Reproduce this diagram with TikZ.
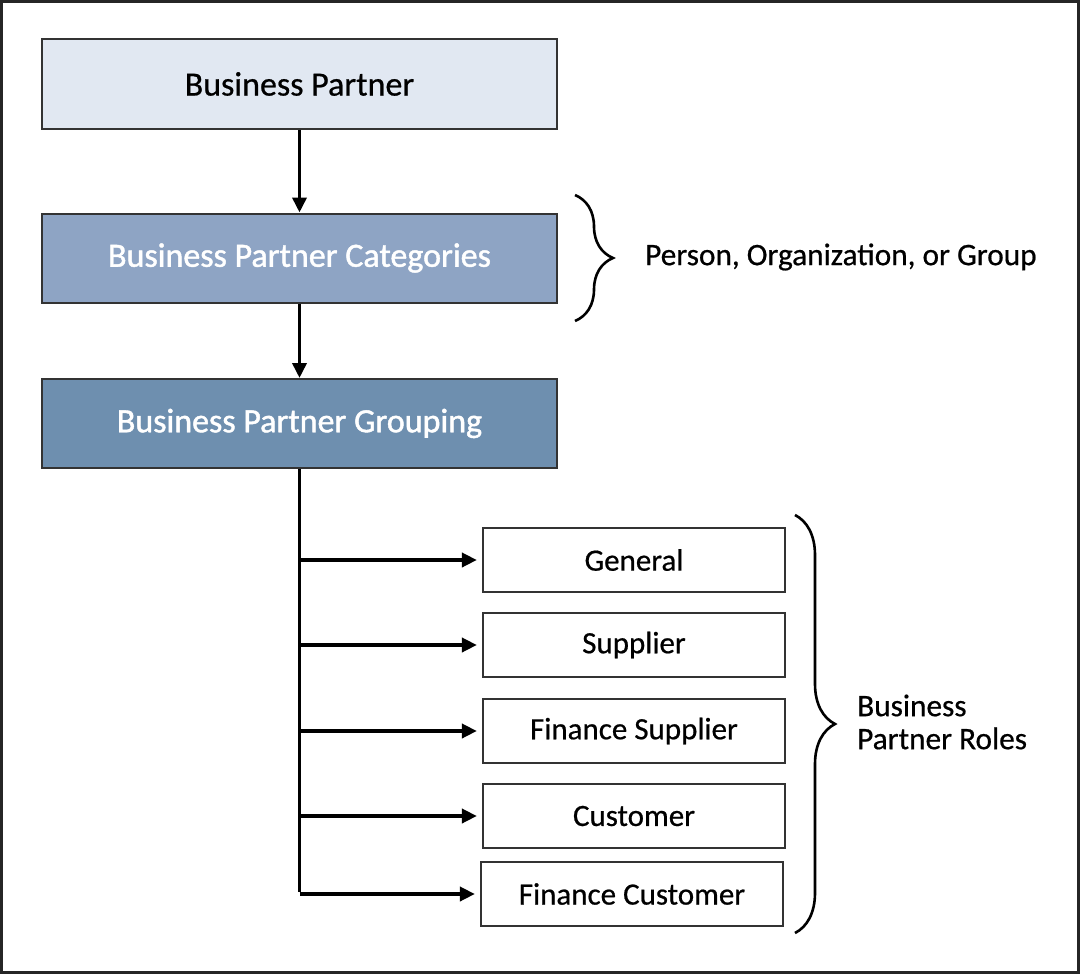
\documentclass[tikz,border=0pt]{standalone}
\usepackage{fontspec}
\setmainfont{Carlito}
\newfontfamily\bpsemi[FakeBold=1.3]{Carlito}
\newfontfamily\bpreg[FakeBold=0.6]{Carlito}
\usetikzlibrary{arrows.meta,decorations.pathreplacing}
\definecolor{bpone}{HTML}{E1E8F2}
\definecolor{bptwo}{HTML}{8EA4C4}
\definecolor{bpthree}{HTML}{6E8FAF}
\definecolor{edge}{HTML}{333333}
\begin{document}
\begin{tikzpicture}[x=1pt,y=-1pt,
  topbox/.style={draw=edge,line width=2pt,minimum width=515pt,minimum height=89pt,inner sep=0pt,font=\fontsize{34}{40}\selectfont},
  rolebox/.style={draw=edge,line width=2.2pt,fill=white,minimum width=302pt,minimum height=64pt,inner sep=0pt,font=\bpreg\fontsize{31}{37}\selectfont},
  conn/.style={line width=3.6pt,draw=black},
  arr/.style={conn,-{Triangle[length=15pt,width=14pt]}},
  sidearr/.style={arr,shorten >=5pt},
  bracestyle/.style={draw=black,line width=2.6pt,decorate},
  lbl/.style={anchor=west,inner sep=0pt,font=\bpreg\fontsize{31.3}{33}\selectfont,align=left}
]
\useasboundingbox (0,0) rectangle (1080,974);
\draw[line width=3pt,draw=black!85] (1.5,1.5) rectangle (1078.5,972.5);

\node[topbox,fill=bpone,text=black,font=\bpreg\fontsize{34}{40}\selectfont] (bp) at (299.5,84) {Business Partner};
\node[topbox,fill=bptwo,text=white,font=\bpsemi\fontsize{34}{40}\selectfont] (cat) at (299.5,258) {Business Partner Categories};
\node[topbox,fill=bpthree,text=white,font=\bpsemi\fontsize{34}{40}\selectfont] (grp) at (299.5,423.5) {Business Partner Grouping};

\node[rolebox] (gen) at (634,560) {General};
\node[rolebox] (sup) at (634,645) {Supplier};
\node[rolebox] (fsup) at (634,731) {Finance Supplier};
\node[rolebox] (cus) at (634,816) {Customer};
\node[rolebox] (fcus) at (632,894) {Finance Customer};

\draw[arr] (bp.south) -- (cat.north);
\draw[arr] (cat.south) -- (grp.north);
\coordinate (trunkend) at (grp.south |- fcus.west);
\draw[conn] (grp.south) -- ([yshift=1.8pt]trunkend);
\draw[sidearr] (grp.south |- gen.west) -- (gen.west);
\draw[sidearr] (grp.south |- sup.west) -- (sup.west);
\draw[sidearr] (grp.south |- fsup.west) -- (fsup.west);
\draw[sidearr] (grp.south |- cus.west) -- (cus.west);
\draw[sidearr] (trunkend) -- (fcus.west);

\coordinate (b1t) at (575,195);
\coordinate (b1b) at (575,321);
\draw[bracestyle,decoration={brace,amplitude=38pt}] (b1t) -- (b1b);
\node[lbl] (pog) at (645,257) {Person, Organization, or Group};

\coordinate (b2t) at (795,515);
\coordinate (b2b) at (795,933);
\draw[bracestyle,decoration={brace,amplitude=40pt}] (b2t) -- (b2b);
\node[lbl] (roles) at (857,722) {Business\\Partner Roles};
\end{tikzpicture}
\end{document}
